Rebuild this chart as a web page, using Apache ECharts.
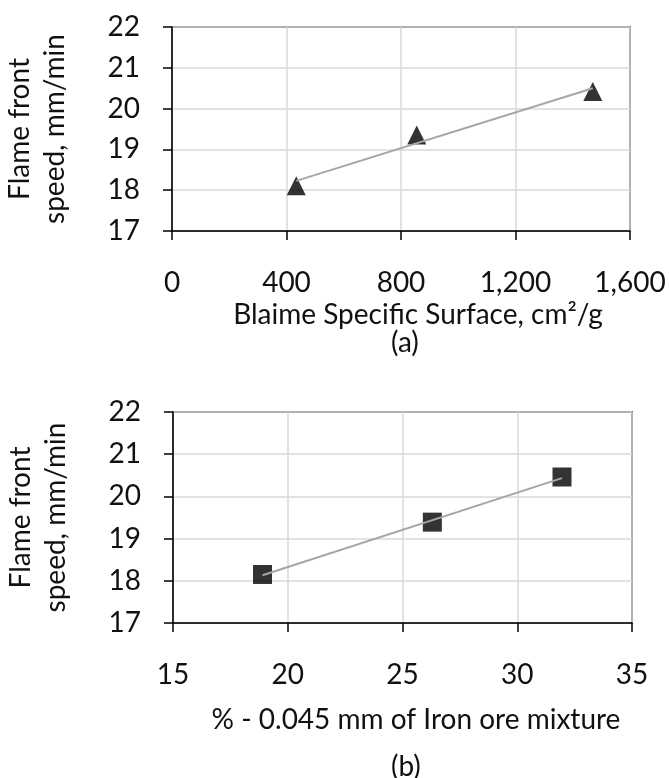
<!DOCTYPE html>
<html>
<head>
<meta charset="utf-8">
<script src="https://cdn.jsdelivr.net/npm/echarts@6/dist/echarts.min.js"></script>
<style>
html,body{margin:0;padding:0;background:#fff;}
#chart{width:669px;height:778px;}
</style>
</head>
<body>
<div id="chart"></div>
<script>
// Panel (a)
var blaineSurface = [434, 855, 1470];
var flameSpeedA = [18.11, 19.35, 20.42];
// Panel (b)
var fineFraction = [18.9, 26.3, 31.95];
var flameSpeedB = [18.15, 19.39, 20.46];

var xTicksA = [0, 400, 800, 1200, 1600];
var xTicksB = [15, 20, 25, 30, 35];
var yTicks = [17, 18, 19, 20, 21, 22];

var yTitle = 'Flame front\nspeed, mm/min';
var xTitleA = 'Blaime Specific Surface, cm\u00B2/g';
var xTitleB = '% - 0.045 mm of Iron ore mixture';

function fit(xs, ys) {
  var n = xs.length, mx = 0, my = 0;
  for (var i = 0; i < n; i++) { mx += xs[i]; my += ys[i]; }
  mx /= n; my /= n;
  var sxy = 0, sxx = 0;
  for (var j = 0; j < n; j++) { sxy += (xs[j]-mx)*(ys[j]-my); sxx += (xs[j]-mx)*(xs[j]-mx); }
  var b = sxy/sxx, a = my - b*mx;
  var x0 = Math.min.apply(null, xs), x1 = Math.max.apply(null, xs);
  return [[x0, a + b*x0], [x1, a + b*x1]];
}
function pairs(xs, ys) { return xs.map(function (x, i) { return [x, ys[i]]; }); }

var FONT = 'Lato';
var FS = 28;
var txt = {color: '#111', fontFamily: FONT, fontSize: FS};

function xAxis(idx, ticks, name, fmt, gap, shift) {
  return {
    type: 'value', gridIndex: idx,
    min: ticks[0], max: ticks[ticks.length-1], interval: ticks[1]-ticks[0],
    name: name, nameLocation: 'middle', nameGap: gap,
    nameTextStyle: {color: '#111', fontFamily: FONT, fontSize: FS, padding: [0, 0, 0, shift]},
    axisLine: {show: true, onZero: false, lineStyle: {color: '#000', width: 1.5}},
    axisTick: {show: true, length: 9, lineStyle: {color: '#000', width: 1.5}},
    axisLabel: Object.assign({margin: 38, formatter: fmt, hideOverlap: false}, txt),
    splitLine: {show: true, lineStyle: {color: '#d9d9d9', width: 1.5}}
  };
}
function yAxis(idx) {
  return {
    type: 'value', gridIndex: idx,
    min: yTicks[0], max: yTicks[yTicks.length-1], interval: 1,
    name: yTitle, nameLocation: 'middle', nameGap: 100, nameRotate: 90,
    nameTextStyle: {color: '#111', fontFamily: FONT, fontSize: FS, lineHeight: 35},
    axisLine: {show: true, onZero: false, lineStyle: {color: '#000', width: 1.5}},
    axisTick: {show: true, length: 9, lineStyle: {color: '#000', width: 1.5}},
    axisLabel: Object.assign({margin: 32}, txt),
    splitLine: {show: true, lineStyle: {color: '#d9d9d9', width: 1.5}}
  };
}

var chart = echarts.init(document.getElementById('chart'), null, {renderer: 'canvas'});
chart.setOption({
  backgroundColor: '#fff',
  animation: false,
  grid: [
    {left: 172, top: 27, width: 458, height: 204, show: true, borderColor: '#000', borderWidth: 1.5,
     backgroundColor: 'transparent', containLabel: false, outerBoundsMode: 'none'},
    {left: 173, top: 412, width: 459, height: 211, show: true, borderColor: '#000', borderWidth: 1.5,
     backgroundColor: 'transparent', containLabel: false, outerBoundsMode: 'none'}
  ],
  xAxis: [
    xAxis(0, xTicksA, xTitleA, function (v) { return v.toLocaleString('en-US'); }, 70, 34),
    xAxis(1, xTicksB, xTitleB, null, 83, 27)
  ],
  yAxis: [yAxis(0), yAxis(1)],
  graphic: [
    {type: 'text', left: 391, top: 329, style: {text: '(a)', fill: '#111', font: FS + 'px ' + FONT}},
    {type: 'text', left: 391, top: 753, style: {text: '(b)', fill: '#111', font: FS + 'px ' + FONT}}
  ],
  series: [
    {type: 'scatter', xAxisIndex: 0, yAxisIndex: 0, data: pairs(blaineSurface, flameSpeedA),
     symbol: 'triangle', symbolSize: 19, itemStyle: {color: '#000'}, z: 2},
    {type: 'line', xAxisIndex: 0, yAxisIndex: 0, data: fit(blaineSurface, flameSpeedA),
     showSymbol: false, symbol: 'none', lineStyle: {color: '#a6a6a6', width: 2}, z: 3},
    {type: 'scatter', xAxisIndex: 1, yAxisIndex: 1, data: pairs(fineFraction, flameSpeedB),
     symbol: 'rect', symbolSize: 19, itemStyle: {color: '#000'}, z: 2},
    {type: 'line', xAxisIndex: 1, yAxisIndex: 1, data: fit(fineFraction, flameSpeedB),
     showSymbol: false, symbol: 'none', lineStyle: {color: '#a6a6a6', width: 2}, z: 3}
  ]
});
</script>
</body>
</html>
